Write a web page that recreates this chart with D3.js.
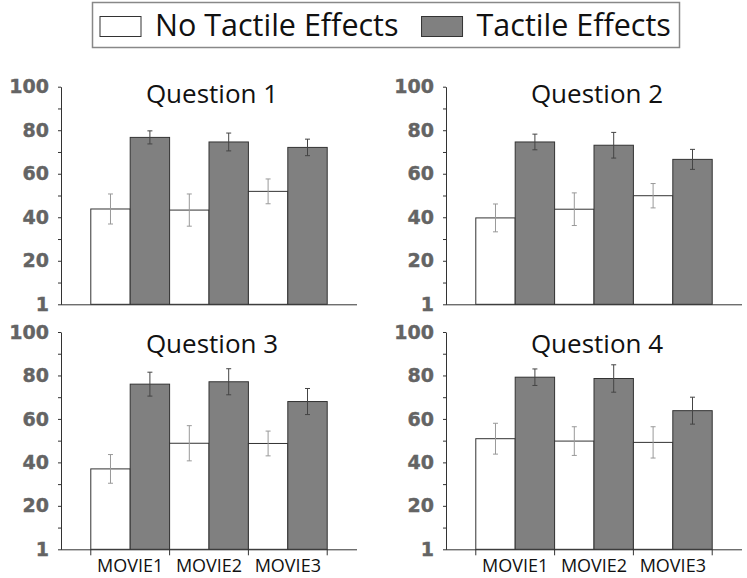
<!DOCTYPE html>
<html lang="en">

<head>
  <meta charset="UTF-8">
  <title>Tactile Effects by Question</title>
  <script src="https://d3js.org/d3.v7.min.js"></script>
  <style>
    body {
      margin: 0;
      background: #fff;
      font-family: "Open Sans", sans-serif;
    }

    .ytick text {
      font-family: "DejaVu Sans", sans-serif;
      font-weight: bold;
      font-size: 19px;
      fill: #646464;
      stroke: #646464;
      stroke-width: 0.4px;
    }
  </style>
</head>

<body>
  <div id="chart"></div>

  <script>
    // data
    const movies = ["MOVIE1", "MOVIE2", "MOVIE3"];
    const series = ["No Tactile Effects", "Tactile Effects"];
    const questions = ["Question 1", "Question 2", "Question 3", "Question 4"];
    const noTactile = [
      [43.8, 43.3, 51.9],
      [39.7, 43.7, 49.9],
      [37.0, 48.8, 48.7],
      [50.9, 49.8, 49.2]
    ];
    const noTactileErr = [
      [6.9, 7.4, 5.7],
      [6.4, 7.5, 5.6],
      [6.6, 8.1, 5.7],
      [7.1, 6.6, 7.2]
    ];
    const tactile = [
      [76.7, 74.6, 72.1],
      [74.6, 73.1, 66.6],
      [76.0, 77.1, 68.0],
      [79.2, 78.6, 63.8]
    ];
    const tactileErr = [
      [3.0, 4.1, 3.8],
      [3.6, 5.9, 4.6],
      [5.5, 6.0, 6.0],
      [3.8, 6.3, 6.2]
    ];
    const yTickValues = [0, 20, 40, 60, 80, 100];
    const yTickLabels = ["1", "20", "40", "60", "80", "100"];

    const W = 747, H = 578;
    const fills = ["#ffffff", "#808080"];
    const errColors = ["#999", "#444"];

    const svg = d3.select("#chart").append("svg")
      .attr("width", W)
      .attr("height", H);

    // legend
    const legend = svg.append("g");
    legend.append("rect")
      .attr("x", 92.5).attr("y", 2.5)
      .attr("width", 587).attr("height", 45)
      .attr("fill", "#fff")
      .attr("stroke", "#888")
      .attr("stroke-width", 1.5);

    let lx = 100;
    series.forEach((s, i) => {
      legend.append("rect")
        .attr("x", lx).attr("y", 16.5)
        .attr("width", 41).attr("height", 20)
        .attr("fill", fills[i])
        .attr("stroke", "#333");
      const t = legend.append("text")
        .attr("x", lx + 55).attr("y", 36)
        .attr("font-size", "30.5px")
        .attr("fill", "#111")
        .text(s);
      lx = lx + 55 + t.node().getComputedTextLength() + 23;
    });

    // panel layout
    const colX = [61, 446];
    const rowY = [[86.7, 304.3], [332, 549.3]];
    const panelW = 296;

    questions.forEach((q, qi) => {
      const col = qi % 2, row = Math.floor(qi / 2);
      const x0 = colX[col];
      const [yTop, yBot] = rowY[row];

      const g = svg.append("g")
        .attr("transform", `translate(${x0},0)`);

      const x = d3.scaleBand()
        .domain(movies)
        .range([0, panelW])
        .paddingInner(0)
        .paddingOuter(0.378);

      const xs = d3.scaleBand()
        .domain(series)
        .range([0, x.bandwidth()]);

      const y = d3.scaleLinear().domain([0, 100]).range([yBot, yTop]);

      const rows = movies.map((m, mi) => ({
        movie: m,
        vals: [
          { s: series[0], v: noTactile[qi][mi], e: noTactileErr[qi][mi], k: 0 },
          { s: series[1], v: tactile[qi][mi], e: tactileErr[qi][mi], k: 1 }
        ]
      }));

      const groups = g.selectAll(".grp")
        .data(rows)
        .enter().append("g")
        .attr("transform", d => `translate(${x(d.movie)},0)`);

      groups.selectAll("rect")
        .data(d => d.vals)
        .enter().append("rect")
        .attr("x", d => xs(d.s))
        .attr("y", d => y(d.v))
        .attr("width", xs.bandwidth())
        .attr("height", d => y(0) - y(d.v))
        .attr("fill", d => fills[d.k])
        .attr("stroke", "#333")
        .attr("stroke-width", 1);

      // error bars
      const eb = groups.selectAll(".err")
        .data(d => d.vals)
        .enter().append("g")
        .attr("stroke", d => errColors[d.k])
        .attr("stroke-width", 1);
      eb.append("line")
        .attr("x1", d => xs(d.s) + xs.bandwidth() / 2)
        .attr("x2", d => xs(d.s) + xs.bandwidth() / 2)
        .attr("y1", d => y(d.v + d.e))
        .attr("y2", d => y(d.v - d.e));
      [1, -1].forEach(sign => {
        eb.append("line")
          .attr("x1", d => xs(d.s) + xs.bandwidth() / 2 - 2.5)
          .attr("x2", d => xs(d.s) + xs.bandwidth() / 2 + 2.5)
          .attr("y1", d => y(d.v + sign * d.e))
          .attr("y2", d => y(d.v + sign * d.e));
      });

      // y axis
      const yAxis = g.append("g")
        .attr("class", "ytick")
        .call(d3.axisLeft(y)
          .tickValues(d3.range(0, 101, 10))
          .tickSize(3)
          .tickSizeOuter(0)
          .tickPadding(9)
          .tickFormat(d => {
            const i = yTickValues.indexOf(d);
            return i >= 0 ? yTickLabels[i] : "";
          }));
      yAxis.selectAll("line").attr("stroke", "#333");
      yAxis.select(".domain").attr("stroke", "#333");
      yAxis.selectAll("text").attr("font-family", null).attr("font-size", null);

      // x axis
      const xAxis = g.append("g")
        .attr("transform", `translate(0,${yBot})`)
        .call(d3.axisBottom(x).tickSize(0).tickSizeOuter(0).tickPadding(10));
      xAxis.select(".domain").attr("stroke", "#333").attr("d", `M0,0.5H${panelW}`);
      if (row === 1) {
        xAxis.selectAll("text")
          .attr("font-family", "'Open Sans', sans-serif")
          .attr("font-size", "18px")
          .attr("fill", "#111");
        const edges = movies.map(m => x(m)).concat([x(movies[2]) + x.bandwidth()]);
        xAxis.selectAll(".edge")
          .data(edges)
          .enter().append("line")
          .attr("x1", d => d).attr("x2", d => d)
          .attr("y1", 0).attr("y2", 6)
          .attr("stroke", "#333");
      } else {
        xAxis.selectAll(".tick").remove();
      }

      // title
      g.append("text")
        .attr("x", panelW / 2 + 3)
        .attr("y", row === 0 ? 102.7 : 352.7)
        .attr("text-anchor", "middle")
        .attr("font-size", "26px")
        .attr("fill", "#111")
        .text(q);
    });
  </script>
</body>

</html>
